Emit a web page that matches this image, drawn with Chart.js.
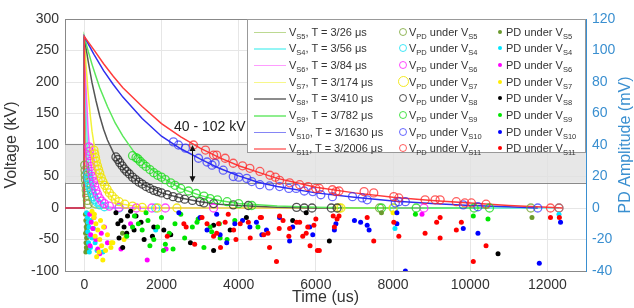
<!DOCTYPE html>
<html>
<head>
<meta charset="utf-8">
<script src="https://cdn.jsdelivr.net/npm/chart.js@4.4.0/dist/chart.umd.min.js"></script>
<style>
body { margin: 0; background: #fff; font-family: "Liberation Sans", Arial, sans-serif; }
#wrap { position: relative; width: 634px; height: 308px; }
#legend { position: absolute; left: 247px; top: 19px; width: 339px; height: 134px; box-sizing: border-box;
  background: #fff; border: 1px solid #999; font-size: 11px; color: #333; }
#legend .tx { position: absolute; height: 16px; line-height: 16px; white-space: nowrap; }
#legend .ln { position: absolute; left: 6px; width: 32px; height: 1.5px; }
#legend .ring { position: absolute; border-radius: 50%; box-sizing: border-box; border-style: solid; }
#legend .dot { position: absolute; width: 4px; height: 4px; border-radius: 50%; }
sub { font-size: 7.5px; vertical-align: -3px; line-height: 0; }
</style>
</head>
<body>
<div id="wrap">
  <canvas id="chart" width="634" height="308"></canvas>
  <div id="legend"></div>
</div>
<script>
// series in legend order
const seriesNames = ['S5', 'S4', 'S6', 'S7', 'S8', 'S9', 'S10', 'S11'];
const periods = ['3/26', '3/56', '3/84', '3/174', '3/410', '3/782', '3/1630', '3/2006'];

const xTicks = [0, 2000, 4000, 6000, 8000, 10000, 12000];
const yTicks = [-100, -50, 0, 50, 100, 150, 200, 250, 300];
const y2Ticks = [-40, -20, 0, 20, 40, 60, 80, 100, 120];

// voltage curves [time us, kV]
const curveS5 = [[-500,0],[0,0],[0,272],[10,212],[25,145],[50,78],[75,42],[100,22],[150,6],[200,2],[300,0],[11600,0]];
const curveS4 = [[-500,0],[0,0],[0,272],[25,199],[50,145],[100,78],[150,42],[200,22],[300,6],[400,2],[600,0],[12300,0]];
const curveS6 = [[-500,0],[0,0],[0,272],[25,223],[50,183],[100,122],[150,82],[200,55],[300,25],[400,11],[600,2],[800,0],[8800,0]];
const curveS7 = [[-500,0],[0,0],[0,272],[25,246],[50,223],[100,182],[150,150],[200,122],[300,82],[400,55],[500,37],[600,25],[800,12],[1000,6],[1500,1],[2000,0],[8000,0]];
const curveS8 = [[-500,0],[0,0],[0,272],[50,252],[100,233],[200,199],[300,171],[400,146],[500,125],[600,108],[800,82],[1000,64],[1200,51],[1500,38],[2000,24],[2500,16],[3000,10],[3500,6],[4000,4],[5000,1],[6000,0],[6600,0]];
const curveS9 = [[-500,0],[0,0],[0,272],[100,249],[200,228],[300,209],[400,191],[600,161],[800,135],[1000,114],[1300,88],[1600,68],[2000,49],[2500,31],[3000,20],[3500,12],[4000,7],[5000,3],[6000,1],[7000,0],[10500,0]];
const curveS10 = [[-500,0],[0,0],[0,272],[250,244],[500,218],[750,196],[1000,176],[1500,142],[2000,114],[2500,94],[3000,78],[3500,63],[4000,51],[4500,41],[5000,34],[6000,24],[7000,17],[8000,11],[9000,7],[10000,4],[11000,2],[11750,0]];
const curveS11 = [[-500,0],[0,0],[0,272],[250,251],[500,229],[750,209],[1000,191],[1500,161],[2000,134],[2500,113],[3000,95],[3500,80],[4000,67],[4500,57],[5000,47],[5500,40],[6000,33],[7000,24],[8000,17],[9000,12],[10000,8],[11000,4],[12000,1],[12400,0]];

// V_PD circles [time us, kV]
const vpdS5 = [[10,68],[20,60],[25,52],[30,45],[40,36],[50,28],[60,20],[80,12],[100,6],[7650,0],[11570,0]];
const vpdS4 = [[90,55],[100,48],[110,44],[130,38],[150,33],[170,28],[200,23],[240,18],[280,13],[330,9],[400,5],[520,2],[900,0],[1850,0],[8020,0],[12300,0]];
const vpdS6 = [[120,97],[130,90],[140,83],[155,74],[170,66],[190,58],[210,50],[240,42],[270,35],[300,28],[340,22],[390,16],[450,11],[520,7],[650,3],[900,1],[1350,0],[1750,0],[2100,0],[3350,0],[8800,0]];
const vpdS7 = [[250,92],[270,86],[290,80],[310,74],[340,67],[370,61],[400,55],[440,48],[480,42],[530,36],[590,30],[650,24],[720,19],[800,14],[900,10],[1050,6],[1250,3],[1500,1],[1900,0],[2400,0],[6600,0],[6650,0],[8000,0]];
const vpdS8 = [[820,81],[870,77],[920,72],[980,67],[1040,62],[1100,58],[1170,54],[1250,49],[1330,45],[1420,41],[1500,38],[1600,34],[1700,31],[1800,28],[1900,26],[2000,24],[2150,21],[2300,18],[2450,16],[2600,14],[2800,12],[3000,10],[3100,8],[3350,7],[3860,5],[4250,4],[5500,1],[5700,0],[5900,0],[6400,0],[6550,0]];
const vpdS9 = [[1250,83],[1340,80],[1390,78],[1450,74],[1520,70],[1600,66],[1700,61],[1800,56],[1900,52],[2000,49],[2100,45],[2240,40],[2350,36],[2500,31],[2700,27],[2900,23],[3100,19],[3260,15],[3450,13],[3700,10],[4000,7],[4340,4],[7700,0],[8600,0],[10100,0],[10500,0]];
const vpdS10 = [[2310,105],[2440,100],[2620,95],[2960,79],[3180,73],[3310,68],[3390,71],[3600,60],[3860,50],[4000,49],[4210,47],[4340,42],[4550,37],[4800,35],[5060,34],[5300,31],[5490,31],[5700,27],[5920,26],[6130,21],[6430,18],[6950,18],[7200,16],[7330,13],[8060,8],[8150,10],[8320,10],[9820,5],[10200,2],[11750,0]];
const vpdS11 = [[2830,100],[3140,92],[3350,84],[3430,84],[3650,79],[3860,71],[4100,67],[4290,63],[4550,58],[4810,52],[4950,49],[5060,44],[5320,40],[5580,37],[5800,34],[6000,31],[6090,31],[6430,29],[6520,26],[6600,27],[7250,26],[7500,24],[8020,18],[8150,16],[8830,13],[9090,13],[9220,13],[9640,10],[9860,8],[10030,8],[10410,6],[12080,0],[12300,0]];

// PD amplitude dots [time us, mV]
const pdS5 = [[30,-4],[40,-8],[50,-12],[35,-16],[60,-19],[45,-22],[55,-25],[40,-28],[70,-26],[65,-14],[80,-10],[990,-16],[7700,-3],[11600,-6]];
const pdS4 = [[60,-3],[80,-6],[100,-9],[120,-12],[90,-15],[140,-18],[110,-22],[160,-25],[130,-28],[200,-19],[170,-8],[240,-13],[280,-22],[330,-27],[480,-28],[1850,-14],[8050,-13],[12300,-4]];
const pdS6 = [[140,-4],[180,-9],[220,-13],[165,-17],[300,-20],[350,-26],[440,-16],[520,-12],[600,-22],[250,-6],[400,-29],[150,-24],[950,-26],[1630,-33],[2120,-26],[1200,-10],[8750,-4]];
const pdS7 = [[200,-2],[250,-6],[300,-10],[350,-14],[280,-18],[400,-20],[450,-24],[380,-28],[320,-31],[500,-12],[550,-27],[600,-17],[700,-22],[480,-33],[690,-25],[740,-22],[1030,-20],[1080,-18],[260,-4],[420,-8],[8000,-3]];
const pdS8 = [[820,-3],[950,-8],[1030,-12],[1120,-5],[900,-19],[995,-25],[1290,-14],[1470,-9],[1800,-12],[2060,-14],[2240,-17],[2750,-22],[1765,-18],[3350,-27],[3350,-11],[4200,-6],[3780,-14],[5400,-8],[5750,-3],[6350,-21],[10720,-29],[1340,-5],[1550,-20],[870,-10],[1100,-16],[1200,-2]];
const pdS9 = [[1100,-18],[1250,-12],[1300,-5],[1400,-10],[1500,-14],[1600,-3],[1650,-8],[1700,-24],[1800,-20],[1900,-12],[2000,-6],[2050,-27],[2100,-23],[2200,-16],[2300,-26],[2350,-10],[2500,-4],[2600,-19],[2800,-12],[2920,-9],[2950,-7],[3100,-25],[3260,-12],[3300,-15],[3500,-10],[3520,-19],[3700,-20],[3900,-8],[4500,-12],[8580,-4],[10080,-5],[10460,-7]];
const pdS10 = [[2450,-3],[3000,-6],[3180,-14],[3430,-4],[3520,-17],[3690,-22],[3900,-10],[4100,-8],[4290,-12],[4460,-9],[4600,-17],[4720,-14],[5060,-6],[5320,-21],[5400,-12],[5840,-12],[5920,-17],[6480,-14],[6520,-10],[7000,-8],[7160,-9],[7330,-11],[7380,-14],[8100,-3],[8100,-10],[8320,-40],[9820,-13],[10200,-16],[11790,-35],[12340,-9]];
const pdS11 = [[2150,-18],[2580,-10],[2640,-12],[2860,-23],[3050,-6],[3180,-10],[3350,-18],[3430,-16],[3480,-10],[3530,-25],[3650,-9],[3730,-4],[3870,-14],[3930,-20],[4040,-10],[4250,-9],[4300,-19],[4560,-6],[4590,-6],[4650,-17],[4760,-16],[4800,-25],[4980,-34],[5050,-13],[5060,-5],[5150,-8],[5300,-18],[5320,-13],[5500,-9],[5580,-9],[5660,-18],[5750,-16],[5790,-12],[5850,-24],[5950,-11],[6000,-7],[6040,-27],[6090,-27],[6450,-5],[6480,-12],[6550,-7],[6600,-5],[7330,-6],[7500,-21],[8020,-9],[8150,-18],[8830,-16],[9130,-9],[9220,-6],[9220,-19],[9640,-14],[9770,-9],[10080,-34],[10410,-24],[12080,-6],[12310,-6]];

const curves = [curveS5, curveS4, curveS6, curveS7, curveS8, curveS9, curveS10, curveS11];
const vpds = [vpdS5, vpdS4, vpdS6, vpdS7, vpdS8, vpdS9, vpdS10, vpdS11];
const pds = [pdS5, pdS4, pdS6, pdS7, pdS8, pdS9, pdS10, pdS11];

const lineColors = ['#a6cc6a', '#5ff2f2', '#ff5cff', '#f2f23a', '#555555', '#5be85b', '#2f2ff0', '#ff3b3b'];
const legendLineColors = ['#bcd991', '#94f5f5', '#ff9cff', '#f7f78a', '#8c8c8c', '#8fee8f', '#8585f5', '#ff8f8f'];
const ringColors = ['rgba(120,165,50,0.8)', 'rgba(20,225,245,0.8)', 'rgba(255,30,255,0.8)', 'rgba(240,228,0,0.85)',
  'rgba(40,40,40,0.8)', 'rgba(30,220,30,0.8)', 'rgba(40,40,255,0.7)', 'rgba(255,40,40,0.75)'];
const dotColors = ['#6b9a2e', '#00e5ff', '#ff00ff', '#ffee00', '#000000', '#00e600', '#0000ff', '#ff0000'];
const axisBlue = '#3a8fd0';

Chart.defaults.font.family = '"Liberation Sans", Arial, sans-serif';

const datasets = [];
seriesNames.forEach(function(s, i) {
  datasets.push({
    label: 'V' + s, data: curves[i].map(p => ({x: p[0], y: p[1]})), yAxisID: 'y',
    showLine: true, borderColor: lineColors[i], borderWidth: 1.5, pointRadius: 0, tension: 0, order: 100 - i
  });
  datasets.push({
    label: 'VPD under V' + s, data: vpds[i].map(p => ({x: p[0], y: p[1]})), yAxisID: 'y',
    pointRadius: 4, pointBorderWidth: 1.3, pointBorderColor: ringColors[i], pointBackgroundColor: 'rgba(0,0,0,0)', order: 50 - i
  });
  datasets.push({
    label: 'PD under V' + s, data: pds[i].map(p => ({x: p[0], y: p[1]})), yAxisID: 'y2',
    pointRadius: 2.5, pointBorderWidth: 0, pointBackgroundColor: dotColors[i], order: 10 - i
  });
});

const extras = {
  id: 'extras',
  beforeDatasetsDraw(chart) {
    const c = chart.ctx, a = chart.chartArea, y = chart.scales.y;
    const top = y.getPixelForValue(102), bot = y.getPixelForValue(40);
    c.save();
    c.fillStyle = 'rgba(225,225,225,0.8)';
    c.fillRect(a.left, top, a.right - a.left, bot - top);
    c.strokeStyle = '#8a8a8a';
    c.lineWidth = 1;
    c.beginPath();
    c.moveTo(a.left, Math.round(top) + 0.5); c.lineTo(a.right, Math.round(top) + 0.5);
    c.moveTo(a.left, Math.round(bot) + 0.5); c.lineTo(a.right, Math.round(bot) + 0.5);
    c.stroke();
    c.restore();
  },
  afterDatasetsDraw(chart) {
    const c = chart.ctx, a = chart.chartArea, x = chart.scales.x, y = chart.scales.y;
    c.save();
    // top frame line
    c.strokeStyle = '#888';
    c.lineWidth = 1;
    c.beginPath();
    c.moveTo(a.left, a.top + 0.5); c.lineTo(a.right, a.top + 0.5);
    c.stroke();
    // double arrow for the band
    const ax = Math.round(x.getPixelForValue(2780)) + 0.5;
    const y1 = y.getPixelForValue(100), y2 = y.getPixelForValue(41);
    c.strokeStyle = '#111'; c.fillStyle = '#111';
    c.beginPath(); c.moveTo(ax, y1 + 3); c.lineTo(ax, y2 - 3); c.stroke();
    c.beginPath(); c.moveTo(ax, y1); c.lineTo(ax - 3, y1 + 6); c.lineTo(ax + 3, y1 + 6); c.closePath(); c.fill();
    c.beginPath(); c.moveTo(ax, y2); c.lineTo(ax - 3, y2 - 6); c.lineTo(ax + 3, y2 - 6); c.closePath(); c.fill();
    c.font = '14px "Liberation Sans", Arial, sans-serif';
    c.fillStyle = '#222';
    c.textAlign = 'center'; c.textBaseline = 'middle';
    c.fillText('40 - 102 kV', x.getPixelForValue(3250), y.getPixelForValue(129));
    // right axis title, reading bottom to top
    c.translate(626, (a.top + a.bottom) / 2);
    c.rotate(-Math.PI / 2);
    c.font = '16px "Liberation Sans", Arial, sans-serif';
    c.fillStyle = axisBlue;
    c.fillText('PD Amplitude (mV)', 0, 0);
    c.restore();
  }
};

const plainTick = v => String(v);

const ctx = document.getElementById('chart').getContext('2d');
const chart = new Chart(ctx, {
  type: 'scatter',
  data: { datasets: datasets },
  options: {
    responsive: false,
    animation: false,
    layout: { padding: { top: 19, left: 0, right: 0, bottom: 0 } },
    plugins: { legend: { display: false }, tooltip: { enabled: false } },
    scales: {
      x: {
        type: 'linear', min: -500, max: 13000,
        afterBuildTicks: ax => { ax.ticks = xTicks.map(v => ({ value: v })); },
        afterFit: ax => { ax.height = 37; },
        grid: { color: '#e6e6e6', drawTicks: false },
        border: { color: '#888' },
        ticks: { color: '#333', font: { size: 14 }, padding: 6, maxRotation: 0, callback: plainTick },
        title: { display: true, text: 'Time (us)', color: '#333', font: { size: 16 }, padding: { top: 0, bottom: 1 } }
      },
      y: {
        position: 'left', min: -100, max: 300,
        afterBuildTicks: ax => { ax.ticks = yTicks.map(v => ({ value: v })); },
        afterFit: ax => { ax.width = 65; },
        grid: { color: '#e6e6e6', drawTicks: false },
        border: { color: '#888' },
        ticks: { color: '#333', font: { size: 14 }, padding: 6, callback: plainTick },
        title: { display: true, text: 'Voltage (kV)', color: '#333', font: { size: 16 }, padding: { top: 2, bottom: 0 } }
      },
      y2: {
        position: 'right', min: -40, max: 120,
        afterBuildTicks: ax => { ax.ticks = y2Ticks.map(v => ({ value: v })); },
        afterFit: ax => { ax.width = 48; },
        grid: { display: false, drawTicks: false },
        border: { color: axisBlue },
        ticks: { color: axisBlue, font: { size: 14 }, padding: 6, callback: plainTick }
      }
    }
  },
  plugins: [extras]
});

// legend, 3 columns x 8 rows
const legend = document.getElementById('legend');
seriesNames.forEach(function(s, i) {
  const cy = 12.5 + i * 16.7;
  const ringSize = i === 3 ? 11 : 8;
  legend.insertAdjacentHTML('beforeend',
    '<div class="ln" style="top:' + (cy - 1) + 'px;background:' + legendLineColors[i] + '"></div>' +
    '<div class="tx" style="top:' + (cy - 9) + 'px;left:41px">V<sub>' + s + '</sub>, T = ' + periods[i] + ' μs</div>' +
    '<div class="ring" style="top:' + (cy - ringSize / 2 - 1) + 'px;left:' + (155 - ringSize / 2) + 'px;width:' + ringSize +
      'px;height:' + ringSize + 'px;border-width:1.5px;border-color:' + ringColors[i] + '"></div>' +
    '<div class="tx" style="top:' + (cy - 9) + 'px;left:161px">V<sub>PD</sub> under V<sub>' + s + '</sub></div>' +
    '<div class="dot" style="top:' + (cy - 3) + 'px;left:250px;background:' + dotColors[i] + '"></div>' +
    '<div class="tx" style="top:' + (cy - 9) + 'px;left:258px">PD under V<sub>' + s + '</sub></div>');
});
</script>
</body>
</html>
